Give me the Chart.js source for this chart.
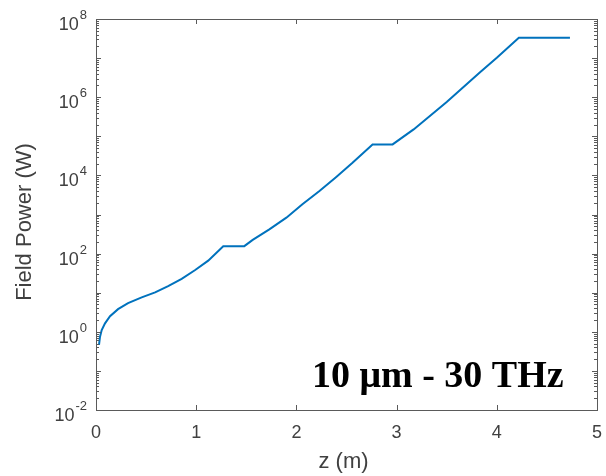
<!DOCTYPE html>
<html>
<head>
<meta charset="utf-8">
<script src="https://cdn.jsdelivr.net/npm/chart.js@4"></script>
<style>
    html, body { margin: 0; padding: 0; background: #fff; }
    #wrap { width: 606px; height: 476px; }
</style>
</head>
<body>
<div id="wrap"><canvas id="powerChart" width="606" height="476"></canvas></div>
<script>
// z position (m) and field power (W)
const zValues = [0.03, 0.04, 0.057, 0.09, 0.14, 0.22, 0.32, 0.456, 0.59, 0.72, 0.855, 0.99, 1.12, 1.27,
    1.48, 1.564, 1.73, 1.90, 2.06, 2.23, 2.395, 2.56, 2.76,
    2.96, 3.17, 3.50, 3.83, 4.00, 4.22, 4.73];
const powerValues = [0.46, 0.75, 1.11, 1.65, 2.5, 3.8, 5.4, 7.6, 10.2, 14.8, 22.7, 38, 66, 155,
    155, 224, 417, 830, 1820, 4000, 9000, 21000, 62000,
    62000, 1.5e5, 7.5e5, 4.3e6, 1.02e7, 3.3e7, 3.3e7];

const xTicks = [0, 1, 2, 3, 4, 5];
const yMajorExps = [-2, -1, 0, 1, 2, 3, 4, 5, 6, 7, 8];
const yLabelExps = [-2, 0, 2, 4, 6, 8];

const xTitle = 'z (m)';
const yTitle = 'Field Power (W)';
const annotation = '10 \u03bcm - 30 THz';

const textColor = '#404040';
const axisColor = '#5a5a5a';
const lineColor = '#0072BD';

// matlab-like box, inward ticks, labels with superscript exponents
const matlabAxes = {
    id: 'matlabAxes',
    afterDraw(chart) {
        const ctx = chart.ctx;
        const area = chart.chartArea;
        const xs = chart.scales.x;
        const ys = chart.scales.y;
        ctx.save();
        ctx.strokeStyle = axisColor;
        ctx.lineWidth = 1;
        ctx.strokeRect(Math.round(area.left) + 0.5, Math.round(area.top) + 0.5,
            Math.round(area.right - area.left), Math.round(area.bottom - area.top));

        ctx.beginPath();
        xTicks.forEach(v => {
            const px = Math.round(xs.getPixelForValue(v)) + 0.5;
            ctx.moveTo(px, area.bottom);
            ctx.lineTo(px, area.bottom - 5);
            ctx.moveTo(px, area.top);
            ctx.lineTo(px, area.top + 5);
        });
        yMajorExps.forEach(e => {
            const py = Math.round(ys.getPixelForValue(Math.pow(10, e))) + 0.5;
            ctx.moveTo(area.left, py);
            ctx.lineTo(area.left + 5, py);
            ctx.moveTo(area.right, py);
            ctx.lineTo(area.right - 5, py);
            if (e < 8) {
                for (let m = 2; m <= 9; m++) {
                    const pm = Math.round(ys.getPixelForValue(m * Math.pow(10, e))) + 0.5;
                    ctx.moveTo(area.left, pm);
                    ctx.lineTo(area.left + 3, pm);
                    ctx.moveTo(area.right, pm);
                    ctx.lineTo(area.right - 3, pm);
                }
            }
        });
        ctx.stroke();

        ctx.fillStyle = textColor;
        ctx.font = '18px "Liberation Sans", Arial, sans-serif';
        ctx.textAlign = 'center';
        ctx.textBaseline = 'alphabetic';
        xTicks.forEach(v => {
            ctx.fillText(String(v), xs.getPixelForValue(v), area.bottom + 28);
        });

        yLabelExps.forEach(e => {
            const py = ys.getPixelForValue(Math.pow(10, e));
            const exp = String(e);
            ctx.font = '13px "Liberation Sans", Arial, sans-serif';
            const ew = ctx.measureText(exp).width;
            ctx.textAlign = 'left';
            const right = 87;
            ctx.fillText(exp, right - ew, py);
            ctx.font = '18px "Liberation Sans", Arial, sans-serif';
            ctx.textAlign = 'right';
            ctx.fillText('10', right - ew - 1, py + 11);
        });

        ctx.font = '22px "Liberation Sans", Arial, sans-serif';
        ctx.textAlign = 'center';
        ctx.fillText(xTitle, (area.left + area.right) / 2 - 3, 468);
        ctx.save();
        ctx.translate(31, 222);
        ctx.rotate(-Math.PI / 2);
        ctx.fillText(yTitle, 0, 0);
        ctx.restore();

        ctx.fillStyle = '#000';
        ctx.font = 'bold 38px "Liberation Serif", "Times New Roman", serif';
        ctx.textAlign = 'left';
        ctx.fillText(annotation, 312, 387);
        ctx.restore();
    }
};

const ctx = document.getElementById('powerChart').getContext('2d');

let chart = new Chart(ctx, {
    type: 'line',
    data: {
        datasets: [
            {
                label: 'Field Power',
                data: zValues.map((z, i) => ({ x: z, y: powerValues[i] })),
                borderColor: lineColor,
                borderWidth: 2,
                fill: false,
                pointRadius: 0,
                tension: 0,
            },
        ],
    },
    plugins: [matlabAxes],
    options: {
        responsive: false,
        animation: false,
        layout: {
            padding: { left: 96, top: 19, right: 9, bottom: 66 }
        },
        plugins: {
            legend: { display: false },
            tooltip: { enabled: false }
        },
        scales: {
            x: {
                type: 'linear',
                display: false,
                min: 0,
                max: 5,
            },
            y: {
                type: 'logarithmic',
                display: false,
                min: 0.01,
                max: 1e8,
            },
        },
    },
});
</script>
</body>
</html>
